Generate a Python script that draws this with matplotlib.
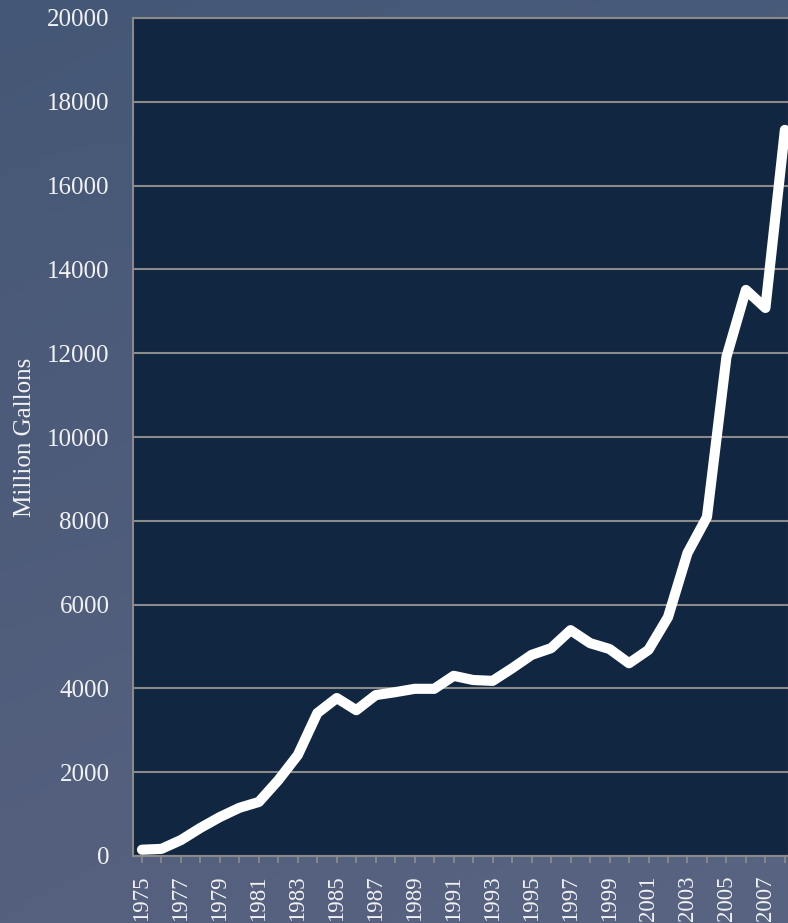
import numpy as np
import matplotlib.pyplot as plt

years = list(range(1975, 2009))
gallons = [150, 170, 380, 670, 930, 1150, 1290, 1810, 2410, 3410, 3770, 3480,
           3840, 3910, 3990, 3990, 4300, 4200, 4180, 4480, 4800, 4960, 5390, 5080,
           4940, 4600, 4920, 5700, 7230, 8090, 11910, 13510, 13080, 17330]
tick_years = list(range(1975, 2009, 2))
y_ticks = list(range(0, 20001, 2000))

W, H = 788, 923
fig = plt.figure(figsize=(W / 100, H / 100), dpi=100)

# textured blue-grey backdrop, approximated as a soft gradient
bg = fig.add_axes([0, 0, 1, 1], zorder=-10)
yy, xx = np.mgrid[0:1:200j, 0:1:200j]
top = np.array([0x47, 0x59, 0x78]) / 255
bot = np.array([0x57, 0x62, 0x80]) / 255
grad = top[None, None, :] * (1 - yy[..., None]) + bot[None, None, :] * yy[..., None]
grad = grad + 0.015 * (xx[..., None] - 0.5)
bg.imshow(np.clip(grad, 0, 1), aspect='auto', extent=[0, 1, 0, 1], origin='upper')
bg.axis('off')

ax = fig.add_axes([133 / W, (H - 856) / H, 1 - 133 / W + 0.001, (856 - 18) / H])
ax.set_facecolor('#112640')
ax.plot(years, gallons, color='white', lw=7.3, solid_capstyle='round', zorder=3)

ax.set_xlim(1975 - 0.46, 2008.2)
ax.set_ylim(0, 20000)
ax.set_yticks(y_ticks)
ax.set_xticks(years)
ax.set_xticklabels([str(y) if y in tick_years else '' for y in years])
ax.grid(axis='y', color='#8a8a8a', lw=1.5)
ax.set_axisbelow(True)

for s in ax.spines.values():
    s.set_color('#8a8a8a')
    s.set_linewidth(1.5)

txt = '#f2f2f2'
fs = 18
ax.tick_params(axis='x', colors='#8a8a8a', length=5, width=1.3, labelcolor=txt,
               labelrotation=90, labelsize=16.5, pad=9)
ax.tick_params(axis='y', length=0, labelcolor=txt, labelsize=fs, pad=17)
for lab in ax.get_xticklabels() + ax.get_yticklabels():
    lab.set_family('Liberation Serif')

fig.text(25 / W, (H - 437) / H, 'Million Gallons', rotation=90, ha='center',
         va='center', fontsize=fs, color=txt, family='Liberation Serif')

fig.savefig('out.png', dpi=100)
